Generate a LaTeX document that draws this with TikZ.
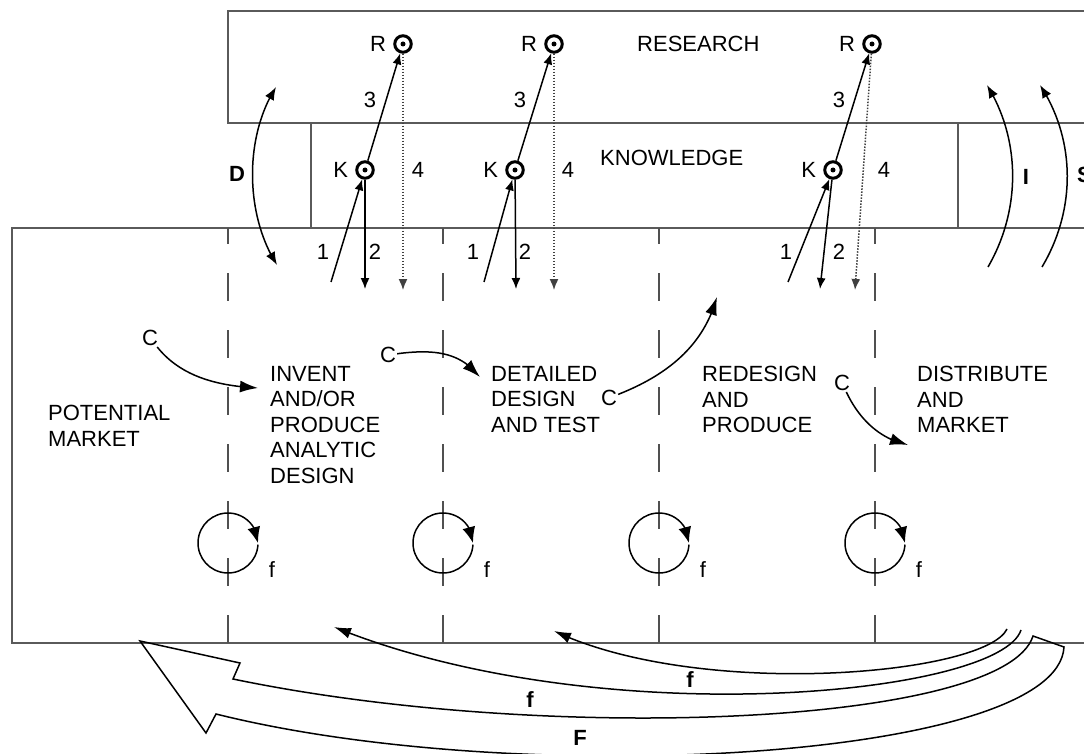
\documentclass[tikz,border=0pt]{standalone}
\usepackage{fontspec}
\setmainfont{Liberation Sans}
\usepackage{tikz}
\usetikzlibrary{positioning, arrows.meta, bending}
\definecolor{boxGray}{HTML}{5A5A5A}
\definecolor{dashGray}{HTML}{505050}
\newcommand{\bigfont}{\fontsize{22}{25.5}\selectfont}

\begin{document}
\begin{tikzpicture}[x=1pt, y=-1pt,
    every node/.style={font=\bigfont, inner sep=1pt},
    boxline/.style={boxGray, line width=2pt},
    stagesep/.style={dashGray, line width=1.8pt, dash pattern=on 28pt off 29pt, dash phase=12pt},
    bullseye/.style={circle, draw, line width=3pt, minimum size=16.5pt, inner sep=0pt,
      path picture={\fill (path picture bounding box.center) circle (2.5pt);}},
    flow/.style={-{Latex[length=11pt,width=9pt]}, line width=1.5pt},
    probe/.style={flow, black!75, dash pattern=on 1.5pt off 1.5pt},
    carrow/.style={-{Latex[length=18pt,width=12pt]}, line width=1.5pt},
    bow/.style={{Latex[length=13pt,width=10pt]}-{Latex[length=13pt,width=10pt]}, line width=1.5pt},
    upbow/.style={-{Latex[length=13pt,width=10pt]}, line width=1.5pt},
    reloop/.style={-{Latex[length=16pt,width=13pt]}, line width=1.5pt},
    fback/.style={-{Latex[length=17pt,width=11pt]}, line width=1.5pt},
    bigF/.style={line width=1.5pt, line join=miter},
    stagetext/.style={align=left, anchor=north west},
    heavy/.style={font=\bigfont\bfseries}]
  \useasboundingbox (0,0) rectangle (1084,754);

  % Research / knowledge bands
  \draw[boxline] (1100,11) -- (228,11) -- (228,123) -- (1100,123);
  \draw[boxline] (311,123) -- (311,228);
  \draw[boxline] (958,123) -- (958,228);
  % Production box
  \draw[boxline] (1100,228) -- (12,228) -- (12,643) -- (1100,643);

  \node (research) [anchor=west] at (636,44) {RESEARCH};
  \node (knowledge) [anchor=west] at (599,158) {KNOWLEDGE};

  % Stage separators with local feedback loops
  \foreach \x [count=\i] in {228,443,659,875} {
    \draw[stagesep] (\x,228) -- (\x,643);
    \coordinate (loop\i) at (\x,543);
    \draw[reloop] (loop\i) ++(357:30pt) arc[start angle=357, end angle=0, radius=30pt];
    \node (fl\i) at (\x+44,570) {f};
  }

  % K and R points with links 1-4
  \foreach \kx/\rx/\ax/\bx/\dx/\i in {365/403/331/365/403/1, 515/554/484/516/554/2, 833/872/788/820/855/3} {
    \node[bullseye] (r\i) at (\rx,44) {};
    \node[left=6pt of r\i] (rl\i) {R};
    \node[bullseye] (k\i) at (\kx,170) {};
    \node[left=6pt of k\i] (kl\i) {K};
    \coordinate (up\i) at (\ax,282);
    \coordinate (dn\i) at (\bx,289);
    \coordinate (dt\i) at (\dx,290);
    \draw[flow] (k\i) -- (r\i);
    \draw[probe] (r\i) -- (dt\i);
    \draw[flow] (up\i) -- (k\i);
    \draw[flow] (k\i) -- (dn\i);
  }
  \foreach \i/\ax/\bx/\cx/\dx in {1/323/375/370/418, 2/473/525/520/568, 3/786/839/839/884} {
    \node (one\i) at (\ax,252) {1};
    \node (two\i) at (\bx,252) {2};
    \node (three\i) at (\cx,100) {3};
    \node (four\i) at (\dx,170) {4};
  }

  % D, I and S links to research
  \coordinate (dtop) at (276,87);
  \coordinate (dbot) at (277,265);
  \draw[bow] (dbot) .. controls (245,215) and (244,137) .. (dtop);
  \node[heavy] (dlab) at (237,174) {D};
  \coordinate (itop) at (987,85);
  \coordinate (ibot) at (988,267);
  \draw[upbow] (ibot) .. controls (1021,210) and (1021,140) .. (itop);
  \node[heavy] (ilab) at (1026,177) {I};
  \coordinate (stop) at (1040,85);
  \coordinate (sbot) at (1042,267);
  \draw[upbow] (sbot) .. controls (1076,210) and (1076,140) .. (stop);
  \node[heavy, anchor=west] (slab) at (1076,175) {S};

  % Stages
  \node[stagetext] (market) at (47,404) {POTENTIAL\\MARKET};
  \node[stagetext] (invent) at (269,365) {INVENT\\AND/OR\\PRODUCE\\ANALYTIC\\DESIGN};
  \node[stagetext] (detail) at (490,365) {DETAILED\\DESIGN\\AND TEST};
  \node[stagetext] (redesign) at (701,365) {REDESIGN\\AND\\PRODUCE};
  \node[stagetext] (distrib) at (916,365) {DISTRIBUTE\\AND\\MARKET};

  % C links between stages
  \node (cl1) at (150,338) {C};
  \node (cl2) at (388,355) {C};
  \node (cl3) at (609,398) {C};
  \node (cl4) at (842,383) {C};
  \coordinate (ct1) at (258,388);
  \coordinate (ct2) at (480,377);
  \coordinate (ct3) at (717,297);
  \coordinate (ct4) at (908,445);
  \draw[carrow] (cl1) .. controls (182,378) and (220,386) .. (ct1);
  \draw[carrow] (cl2) .. controls (440,348) and (462,355) .. (ct2);
  \draw[carrow] (cl3) .. controls (675,372) and (705,340) .. (ct3);
  \draw[carrow] (cl4) .. controls (862,425) and (885,440) .. (ct4);

  % Feedback from the market
  \coordinate (fb1s) at (1007,629);
  \coordinate (fb1t) at (554,631);
  \coordinate (fb2s) at (1021,630);
  \coordinate (fb2t) at (334,627);
  \draw[fback] (fb1s) .. controls (985,675) and (700,700) .. (fb1t);
  \draw[fback] (fb2s) .. controls (1000,695) and (600,735) .. (fb2t);
  \draw[bigF] (1033,636) .. controls (1005,725) and (550,745) .. (233,679)
    -- (240,663) -- (140,641) -- (206,733) -- (216,714)
    .. controls (520,790) and (1058,760) .. (1064,647) -- cycle;
  \node[heavy] (fbl1) at (690,680) {f};
  \node[heavy] (fbl2) at (530,700) {f};
  \node[heavy] (fbl3) at (580,738) {F};
\end{tikzpicture}
\end{document}
